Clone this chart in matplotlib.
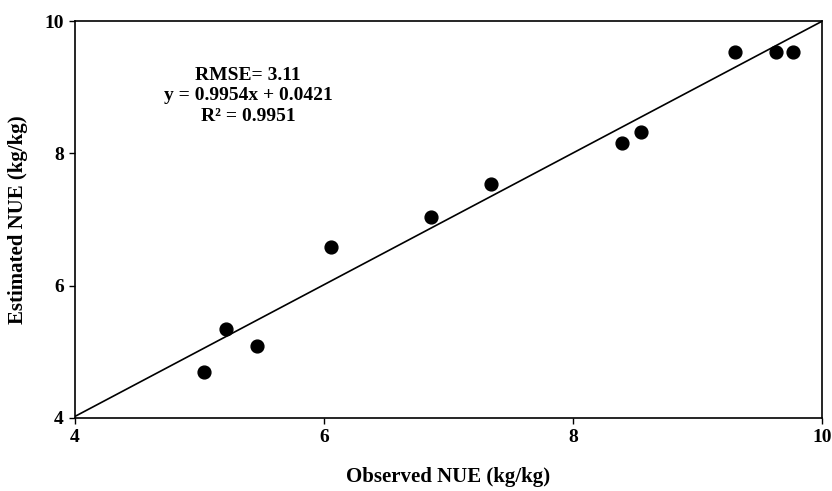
import numpy as np
import matplotlib.pyplot as plt

plt.rcParams['font.family'] = ['Liberation Serif', 'DejaVu Serif']
plt.rcParams['font.weight'] = 'bold'

# observed vs estimated NUE (kg/kg)
observed = [5.04, 5.21, 5.46, 6.06, 6.86, 7.34, 8.39, 8.55, 9.30, 9.63, 9.77]
estimated = [4.70, 5.34, 5.09, 6.58, 7.04, 7.53, 8.15, 8.32, 9.53, 9.53, 9.53]
slope, intercept = 0.9954, 0.0421
tick_vals = [4, 6, 8, 10]

fig = plt.figure(figsize=(8.32, 4.91), dpi=100)
ax = fig.add_axes([0.0901, 0.1487, 0.8979, 0.8085])

ax.scatter(observed, estimated, s=85, color='black', zorder=3)

# fitted line across the full range
xl = np.array([4, 10])
ax.plot(xl, slope * xl + intercept, color='black', lw=1.2)

ax.text(5.39, 8.87, 'RMSE= 3.11\ny = 0.9954x + 0.0421\nR² = 0.9951',
        ha='center', va='center', fontsize=14, fontweight='bold', linespacing=1.25)

ax.set_xlim(4, 10)
ax.set_ylim(4, 10)
ax.set_xticks(tick_vals)
ax.set_yticks(tick_vals)
ax.tick_params(direction='out', length=4, width=1, labelsize=14, pad=4,
               top=False, right=False)
for s in ax.spines.values():
    s.set_linewidth(1.2)

ax.set_xlabel('Observed NUE (kg/kg)', fontsize=15, fontweight='bold', labelpad=15)
ax.set_ylabel('Estimated NUE (kg/kg)', fontsize=15, fontweight='bold', labelpad=12)

plt.savefig('out.png', dpi=100)
